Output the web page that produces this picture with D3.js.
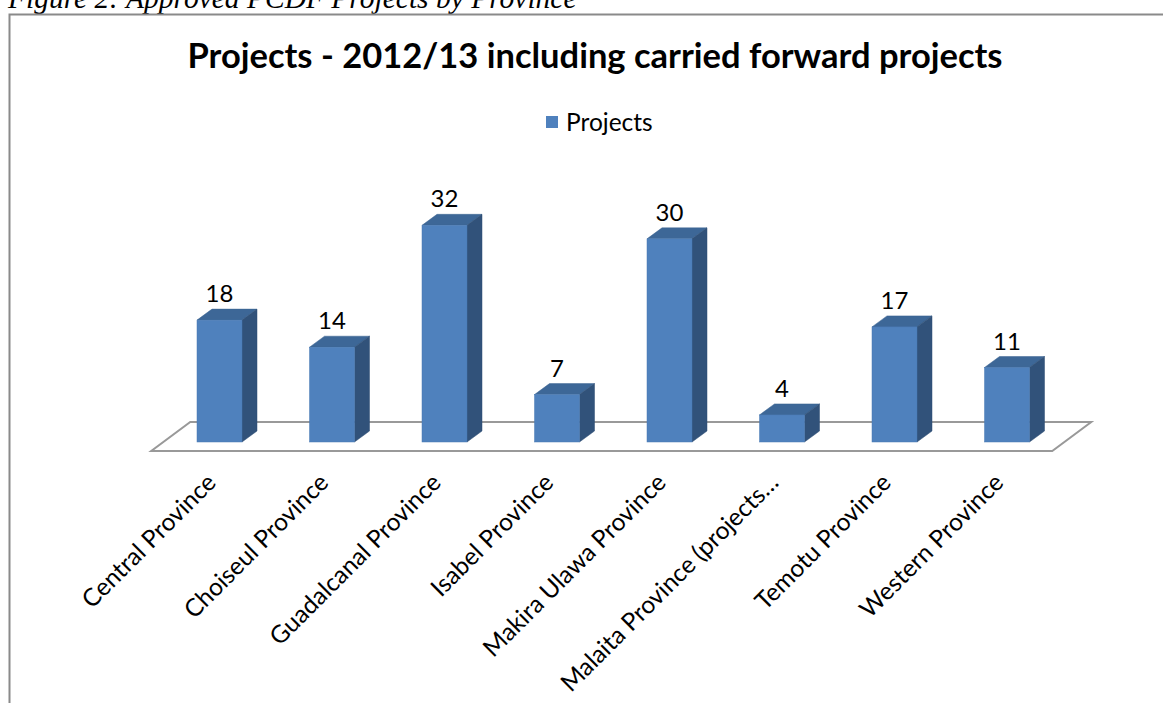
<!DOCTYPE html>
<html><head><meta charset="utf-8">
<script src="https://cdn.jsdelivr.net/npm/d3@7"></script>
<style>body{margin:0;background:#fff}svg{display:block}</style>
</head><body><svg id="c" width="1163" height="703"></svg>
<script>
const categories = ["Central Province","Choiseul Province","Guadalcanal Province","Isabel Province","Makira Ulawa Province","Malaita Province (projects…","Temotu Province","Western Province"];
const projects = [18,14,32,7,30,4,17,11];
const seriesName = "Projects";
const titleText = "Projects - 2012/13 including carried forward projects";
const captionText = "Figure 2: Approved PCDF Projects by Province";

const svg = d3.select("#c");
const font = "Lato, 'Open Sans', sans-serif";

// caption (cut at top in the reference)
svg.append("text").attr("x",8).attr("y",8).attr("font-family","'Liberation Serif', serif")
  .attr("font-style","italic").attr("font-size",29.5).attr("fill","#000").text(captionText);
// frame
svg.append("path").attr("d","M9.5,703 V14.5 H1163").attr("fill","none").attr("stroke","#8a8a8a").attr("stroke-width",2);

// title
svg.append("text").attr("x",595).attr("y",68).attr("text-anchor","middle")
  .attr("font-family",font).attr("font-weight","bold").attr("font-size",34.5).attr("fill","#000").text(titleText);

// legend
svg.append("rect").attr("x",546).attr("y",116).attr("width",12).attr("height",12).attr("fill","#4F81BD");
svg.append("text").attr("x",566).attr("y",131).attr("font-family",font).attr("font-size",24.5).attr("fill","#000").text(seriesName);

const x = d3.scaleBand().domain(categories).range([163.25,1063.25]).paddingInner(0.6).paddingOuter(0.3);
const y = d3.scaleLinear().domain([0,35]).range([442,205]);
const dx = 15, dy = -11;   // depth offset of 3D bars
const fdx = 39, fdy = -29; // depth of floor

// floor
const r = x.range(), fy = 451;
svg.append("path")
  .attr("d",`M${r[0]-12},${fy} L${r[1]-11},${fy} L${r[1]-11+fdx},${fy+fdy} L${r[0]-12+fdx},${fy+fdy} Z`)
  .attr("fill","#fff").attr("stroke","#999").attr("stroke-width",2);

const g = svg.append("g");
const bars = g.selectAll("g.bar").data(categories.map((c,i)=>({c,v:projects[i]}))).join("g");
bars.append("path").attr("fill","#3D6797").attr("stroke","#3A6291").attr("stroke-width",0.5)
  .attr("d",d=>{const x0=x(d.c),x1=x0+x.bandwidth(),t=y(d.v);
    return `M${x0},${t} L${x0+dx},${t+dy} L${x1+dx},${t+dy} L${x1},${t} Z`;});
bars.append("path").attr("fill","#31527A").attr("stroke","#2F4F75").attr("stroke-width",0.5)
  .attr("d",d=>{const x1=x(d.c)+x.bandwidth(),t=y(d.v),b=y(0);
    return `M${x1},${t} L${x1+dx},${t+dy} L${x1+dx},${b+dy} L${x1},${b} Z`;});
bars.append("rect").attr("fill","#4F81BD").attr("stroke","#4A7AB3").attr("stroke-width",0.5)
  .attr("x",d=>x(d.c)).attr("y",d=>y(d.v)).attr("width",x.bandwidth()).attr("height",d=>y(0)-y(d.v));
bars.append("text").attr("text-anchor","middle").attr("font-family",font).attr("font-size",24).attr("fill","#000")
  .attr("x",d=>x(d.c)+x.bandwidth()/2).attr("y",d=>y(d.v)-18).text(d=>d.v);

// category labels
svg.append("g").selectAll("text").data(categories).join("text")
  .attr("text-anchor","end").attr("font-family",font).attr("font-size",24.5).attr("fill","#000")
  .attr("transform",d=>`translate(${x(d)+x.bandwidth()/2-2},${484}) rotate(-45)`)
  .text(d=>d);
</script></body></html>
